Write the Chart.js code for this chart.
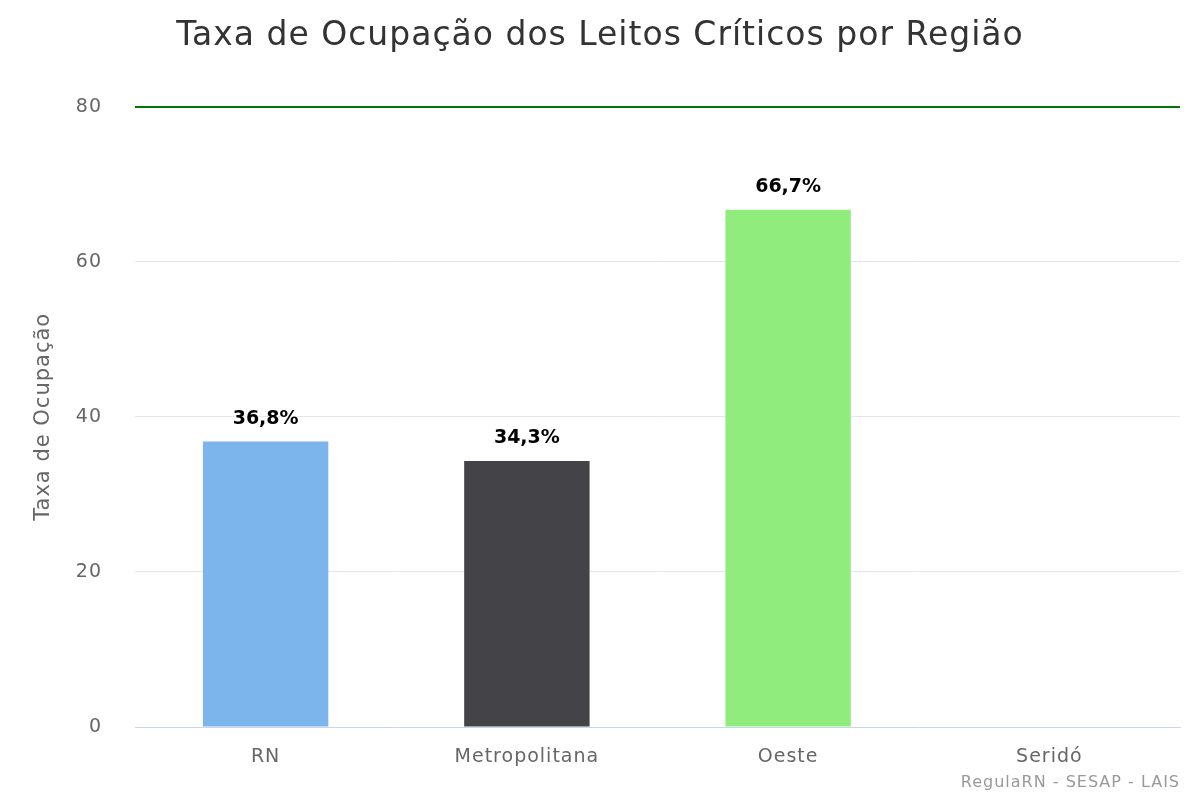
<!DOCTYPE html>
<html>
<head>
<meta charset="utf-8">
<script src="https://cdn.jsdelivr.net/npm/chart.js@4/dist/chart.umd.min.js"></script>
<style>
  html, body { margin: 0; padding: 0; background: #fff; }
  #wrap { width: 1200px; height: 800px; }
</style>
</head>
<body>
<div id="wrap"><canvas id="chart" width="1200" height="800"></canvas></div>
<script>
const regioes = ['RN', 'Metropolitana', 'Oeste', 'Seridó'];
const ocupacao = [36.8, 34.3, 66.7, 0];
const cores = ['#7cb5ec', '#434348', '#90ed7d', '#f7a35c'];
const yTicks = [0, 20, 40, 60, 80];
const limite = 80;

const FONT = "'DejaVu Sans', Verdana, sans-serif";

// the original font is wider, so space the letters a bit
const spacing = {
  id: 'spacing',
  beforeLayout(chart) { chart.ctx.letterSpacing = '1px'; },
  beforeDraw(chart) { chart.ctx.letterSpacing = '1px'; }
};

// green reference line at the limit
const limitLine = {
  id: 'limitLine',
  afterDatasetsDraw(chart) {
    const { ctx, chartArea, scales } = chart;
    const y = Math.round(scales.y.getPixelForValue(limite));
    ctx.save();
    ctx.strokeStyle = '#087508';
    ctx.lineWidth = 2;
    ctx.beginPath();
    ctx.moveTo(chartArea.left, y);
    ctx.lineTo(chartArea.right, y);
    ctx.stroke();
    ctx.restore();
  }
};

// value labels above bars
const valueLabels = {
  id: 'valueLabels',
  afterDatasetsDraw(chart) {
    const { ctx } = chart;
    const meta = chart.getDatasetMeta(0);
    ctx.save();
    ctx.letterSpacing = '0px';
    ctx.font = 'bold 19px ' + FONT;
    ctx.textAlign = 'center';
    ctx.textBaseline = 'middle';
    meta.data.forEach((bar, i) => {
      const v = ocupacao[i];
      if (!v) return;
      const txt = v.toFixed(1).replace('.', ',') + '%';
      ctx.lineWidth = 2;
      ctx.strokeStyle = '#fff';
      ctx.strokeText(txt, bar.x, bar.y - 23);
      ctx.fillStyle = '#000';
      ctx.fillText(txt, bar.x, bar.y - 23);
    });
    ctx.restore();
  }
};

new Chart(document.getElementById('chart'), {
  type: 'bar',
  data: {
    labels: regioes,
    datasets: [{
      label: 'Taxa de Ocupação',
      data: ocupacao,
      backgroundColor: cores,
      categoryPercentage: 1,
      barPercentage: 0.48,
    }]
  },
  options: {
    responsive: false,
    animation: false,
    layout: { padding: 0 },
    plugins: {
      legend: { display: false },
      tooltip: { enabled: false },
      title: {
        display: true,
        text: 'Taxa de Ocupação dos Leitos Críticos por Região',
        color: '#333333',
        font: { family: FONT, size: 33, weight: 'normal' },
        padding: { top: 17, bottom: 50 },
      },
    },
    scales: {
      x: {
        grid: { display: false, drawTicks: false },
        border: { color: '#ccd6eb', width: 1 },
        ticks: { color: '#666666', font: { family: FONT, size: 19 }, padding: 19 },
        // credits line sits under the axis, right aligned
        title: {
          display: true,
          text: 'RegulaRN - SESAP - LAIS',
          align: 'end',
          color: '#999999',
          font: { family: FONT, size: 16 },
          padding: { top: 0, bottom: 8 },
        },
        afterFit(scale) { scale.height = 73; },
      },
      y: {
        min: 0,
        max: limite,
        afterBuildTicks(scale) { scale.ticks = yTicks.map(v => ({ value: v })); },
        grid: {
          color: c => (c.tick && c.tick.value === 0) ? 'rgba(0,0,0,0)' : '#e6e6e6',
          drawTicks: false
        },
        border: { display: false },
        ticks: { color: '#666666', font: { family: FONT, size: 19 }, padding: 33 },
        title: {
          display: true,
          text: 'Taxa de Ocupação',
          color: '#666666',
          font: { family: FONT, size: 21 },
          padding: { top: 31, bottom: 0 },
        },
        afterFit(scale) { scale.width = 135; },
      },
      // empty right margin so the title stays centred on the page
      margem: {
        type: 'linear',
        position: 'right',
        grid: { display: false, drawTicks: false },
        border: { display: false },
        ticks: { display: false },
        afterFit(scale) { scale.width = 20; },
      }
    }
  },
  plugins: [spacing, limitLine, valueLabels]
});
</script>
</body>
</html>
